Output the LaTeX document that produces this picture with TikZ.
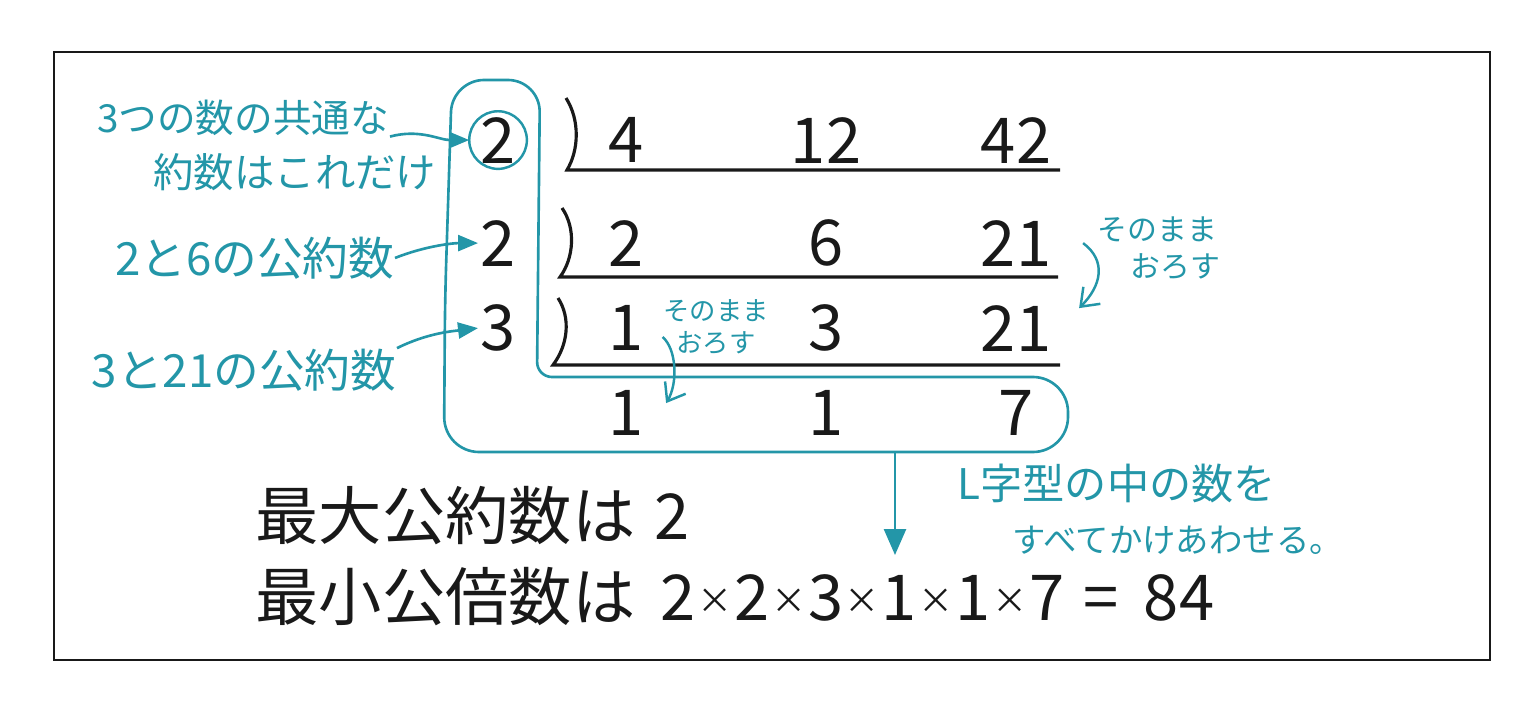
\documentclass[tikz,border=0pt]{standalone}
\usepackage{fontspec}
\setmainfont{Noto Sans CJK JP}
\usepackage{xcolor}
\usepackage{tikz}
\usetikzlibrary{matrix,arrows.meta}

\definecolor{ink}{RGB}{25,25,25}
\definecolor{pen}{RGB}{35,150,168}
\newcommand{\tms}{\kern0.5pt\raisebox{2pt}{\fontsize{10}{10}\selectfont ×}\kern0.5pt}

\tikzset{
  note/.style={text=pen,inner sep=0pt},
  circ/.style={circle,draw=pen,line width=0.7pt,minimum width=5.4mm,minimum height=5.4mm},
  dv/.style={minimum width=4mm},
  rule/.style={ink,line width=0.9pt},
  lbox/.style={pen,line width=0.75pt},
  tarrow/.style={pen,line width=0.75pt,-{Triangle[length=2mm,width=1.6mm]}},
  barb/.style={pen,line width=0.7pt,-{Straight Barb[length=1.6mm,width=2.4mm]}},
}

\begin{document}
\begin{tikzpicture}[x=0.1mm,y=-0.1mm]
\useasboundingbox (0,0) rectangle (1536,715);
\draw[ink,line width=0.6pt] (54,52) rectangle (1490,660);

% division table
\matrix (m) [matrix of nodes, anchor=north west, inner sep=0pt, outer sep=0pt,
  row sep=2.5mm, column sep=11mm,
  nodes={anchor=center, inner sep=0pt, minimum width=8mm, minimum height=6mm,
         text=ink, font=\fontsize{18}{20}\selectfont}] at (468,110)
{ |[circ]| 2 &[-5.2mm] 4 &[1mm] 12 & 42 \\[1.8mm]
  |[dv]| 2 & 2 & 6 & 21 \\
  |[dv]| 3 & 1 & 3 & 21 \\
         & 1 & 1 & 7 \\};

% bars under the rows
\draw[rule] (566,98) .. controls (580,120) and (579,150) .. (567,170) -- (1060,170);
\draw[rule] (562,208) .. controls (576,228) and (574,258) .. (560,277) -- (1058,277);
\draw[rule] (558,298) .. controls (571,318) and (568,345) .. (553,365) -- (1060,365);

% L shape
\draw[lbox, rounded corners=3.2mm] (445,300) -- (452,80) -- (540,80)
  [rounded corners=1.5mm] -- (537,377)
  [rounded corners=3.5mm] -- (1068,377) -- (1068,452) -- (444,452) -- cycle;

% notes on the left
\node[note, font=\fontsize{11}{13}\selectfont, anchor=east] (c1) at (390,118) {3つの数の共通な};
\node[note, font=\fontsize{11.5}{13}\selectfont, anchor=east] (c2) at (437,172) {約数はこれだけ};
\node[note, font=\fontsize{13}{15}\selectfont, anchor=east] (p1) at (395,258) {2と6の公約数};
\node[note, font=\fontsize{13}{15}\selectfont, anchor=east] (p2) at (397,370) {3と21の公約数};

\draw[tarrow] (c1.south east) .. controls +(30,-8) and +(-30,0) .. (m-1-1.west);
\draw[tarrow] (p1.east) .. controls +(30,-12) and +(-25,0) .. (m-2-1.west);
\draw[tarrow] (p2.north east) .. controls +(30,-15) and +(-25,3) .. (m-3-1.west);

% carried down as they are
\node[note, font=\fontsize{7.5}{9}\selectfont, align=center] (n1) at (716,327) {そのまま\\おろす};
\node[note, font=\fontsize{8.5}{10.5}\selectfont, align=left, anchor=west] (n2) at (1097,248)
  {そのまま\\\hspace{1.1em}おろす};
\draw[barb] ([yshift=-1mm]n1.west) .. controls +(14,12) and +(12,-20) .. ([yshift=1mm]m-4-2.east);
\draw[barb] ([xshift=2.7mm]m-2-4.east) .. controls +(24,18) and +(22,-22) .. ([xshift=2.3mm,yshift=2mm]m-3-4.east);

% multiply the L
\coordinate (lb) at (895,452);
\coordinate (lt) at (895,555);
\draw[pen,line width=0.75pt,-{Triangle[length=2.6mm,width=2.2mm]}] (lb) -- (lt);
\node[note, font=\fontsize{12}{14}\selectfont, anchor=west] (l1) at (957,483) {L字型の中の数を};
\node[note, font=\fontsize{9.5}{11}\selectfont, anchor=west] (l2) at (1012,540) {すべてかけあわせる。};

% answers
\node[ink, font=\fontsize{18}{20}\selectfont, anchor=west, inner sep=0pt] (gcd) at (255,516)
  {最大公約数は\hspace{0.3em}2};
\node[ink, font=\fontsize{18}{20}\selectfont, anchor=west, inner sep=0pt] (lcm) at (255,597)
  {最小公倍数は\hspace{0.4em}2\tms 2\tms 3\tms 1\tms 1\tms 7\hspace{0.3em}=\hspace{0.4em}84};
\end{tikzpicture}
\end{document}
